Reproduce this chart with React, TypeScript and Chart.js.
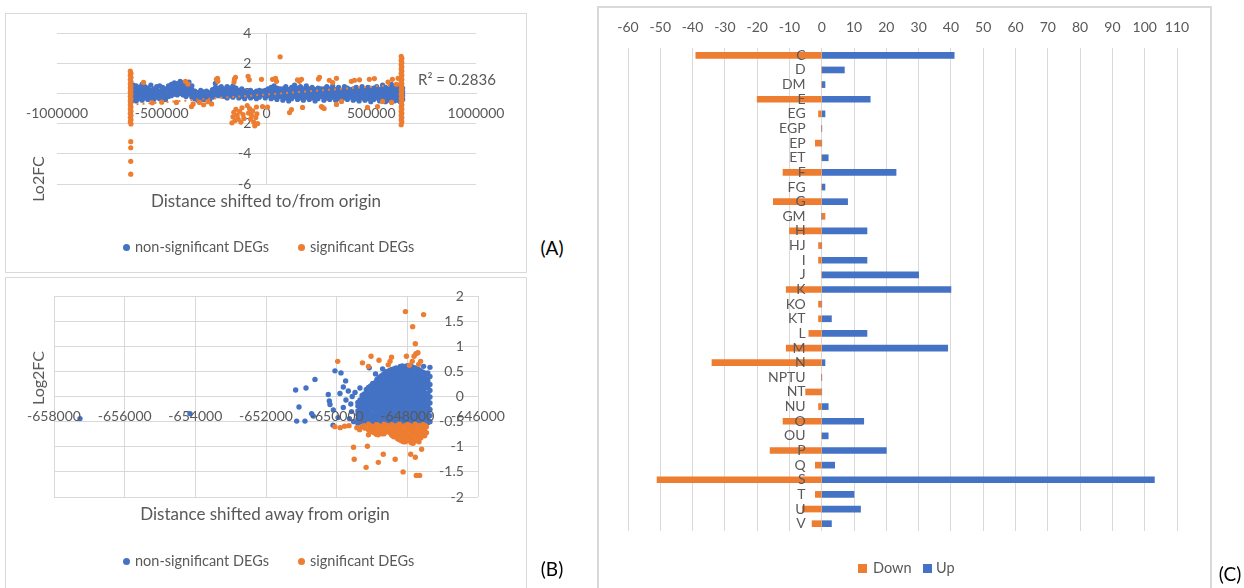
import React, { useEffect, useRef } from "react";
import { Chart, registerables } from "chart.js";

Chart.register(...registerables);

const FONT = "Lato, 'Noto Sans', sans-serif";
const GRAY = "#595959";
const GRID = "#d9d9d9";
const BLUE = "#4472C4";
const ORANGE = "#ED7D31";

// ---------------- Panel A: Log2FC vs distance shifted to/from origin ----------------
const aXTicks = [-1000000, -500000, 0, 500000, 1000000];
const aYTicks = [-6, -4, -2, 0, 2, 4];
const aR2 = "R² = 0.2836";
const aTrend: [number, number][] = [[-649000, -0.75], [644000, 0.6]];

const aBlueCols: [number, number[]][] = [
  [-648000, [-0.55, -0.3, -0.05, 0.2, 0.45, 0.65]],
  [-636000, [-0.45, -0.2, 0.05, 0.3, 0.55]],
  [-622000, [-0.5, -0.25, 0, 0.25, 0.5]],
  [-608000, [-0.35, -0.1, 0.15, 0.4]],
  [-594000, [-0.45, -0.2, 0.05, 0.3, 0.6]],
  [-580000, [-0.3, -0.05, 0.2, 0.45]],
  [-566000, [-0.4, -0.15, 0.1, 0.35]],
  [-552000, [-0.3, -0.05, 0.2, 0.55]],
  [-538000, [-0.4, -0.15, 0.1, 0.3]],
  [-524000, [-0.25, 0, 0.25, 0.45]],
  [-510000, [-0.35, -0.1, 0.15, 0.5]],
  [-496000, [-0.3, -0.05, 0.2, 0.4]],
  [-482000, [-0.4, -0.15, 0.1, 0.3]],
  [-468000, [-0.2, 0.05, 0.3, 0.5]],
  [-454000, [-0.15, 0.1, 0.35, 0.6]],
  [-440000, [-0.05, 0.2, 0.45, 0.7]],
  [-426000, [-0.1, 0.15, 0.4, 0.65]],
  [-412000, [0, 0.25, 0.5, 0.8]],
  [-398000, [-0.1, 0.15, 0.4, 0.7]],
  [-384000, [-0.2, 0.05, 0.3, 0.55]],
  [-370000, [-0.05, 0.2, 0.45, 0.75]],
  [-356000, [-0.25, 0, 0.25, 0.5]],
  [-342000, [-0.35, -0.1, 0.15]],
  [-328000, [-0.45, -0.2, 0.05]],
  [-314000, [-0.3, -0.05, 0.2]],
  [-300000, [-0.4, -0.15, 0.1]],
  [-286000, [-0.35, -0.1, 0.15]],
  [-272000, [-0.45, -0.2, 0.05]],
  [-258000, [-0.25, 0, 0.25]],
  [-244000, [-0.1, 0.15, 0.4, 0.67]],
  [-230000, [-0.15, 0.1, 0.35]],
  [-216000, [-0.05, 0.2, 0.45]],
  [-202000, [-0.2, 0.05, 0.3]],
  [-188000, [-0.3, -0.05, 0.2, 0.45]],
  [-174000, [-0.15, 0.1, 0.35]],
  [-160000, [-0.25, 0, 0.25, 0.5]],
  [-146000, [-0.1, 0.15, 0.35]],
  [-132000, [-0.3, -0.05, 0.2]],
  [-118000, [-0.2, 0.05, 0.3]],
  [-104000, [-0.35, -0.1, 0.15]],
  [-90000, [-0.15, 0.1]],
  [-76000, [-0.3, -0.05, 0.2]],
  [-62000, [-0.2, 0.05]],
  [-48000, [-0.35, -0.1, 0.15]],
  [-34000, [-0.25, 0, 0.2]],
  [-20000, [-0.1, 0.15]],
  [-6000, [-0.3, -0.05, 0.2]],
  [8000, [-0.15, 0.1, 0.3]],
  [22000, [-0.35, -0.1, 0.15, 0.4]],
  [36000, [-0.25, 0, 0.25, 0.5]],
  [50000, [-0.4, -0.15, 0.1, 0.35]],
  [64000, [-0.2, 0.05, 0.3]],
  [78000, [-0.45, -0.2, 0.05, 0.3]],
  [92000, [-0.3, -0.05, 0.2, 0.45]],
  [106000, [-0.5, -0.25, 0, 0.25]],
  [120000, [-0.35, -0.1, 0.15, 0.4]],
  [134000, [-0.2, 0.05, 0.3, 0.55]],
  [148000, [-0.4, -0.15, 0.1, 0.35]],
  [162000, [-0.3, -0.05, 0.2, 0.45]],
  [176000, [-0.45, -0.2, 0.05, 0.3]],
  [190000, [-0.25, 0, 0.25, 0.5]],
  [204000, [-0.4, -0.15, 0.1, 0.3]],
  [218000, [-0.3, -0.05, 0.2, 0.4]],
  [232000, [-0.5, -0.25, 0, 0.25]],
  [246000, [-0.35, -0.1, 0.15, 0.35]],
  [260000, [-0.2, 0.05, 0.3]],
  [274000, [-0.45, -0.2, 0.05, 0.3]],
  [288000, [-0.3, -0.05, 0.2, 0.45]],
  [302000, [-0.4, -0.15, 0.1, 0.3]],
  [316000, [-0.25, 0, 0.25, 0.5]],
  [330000, [-0.45, -0.2, 0.05, 0.25]],
  [344000, [-0.35, -0.1, 0.15, 0.4]],
  [358000, [-0.5, -0.25, 0, 0.2]],
  [372000, [-0.3, -0.05, 0.2, 0.45]],
  [386000, [-0.4, -0.15, 0.1, 0.35]],
  [400000, [-0.25, 0, 0.25]],
  [414000, [-0.45, -0.2, 0.05, 0.3]],
  [428000, [-0.35, -0.1, 0.15, 0.4]],
  [442000, [-0.5, -0.25, 0, 0.25]],
  [456000, [-0.3, -0.05, 0.2, 0.45]],
  [470000, [-0.45, -0.2, 0.05, 0.3]],
  [484000, [-0.35, -0.1, 0.15, 0.4]],
  [498000, [-0.55, -0.3, -0.05, 0.2]],
  [512000, [-0.4, -0.15, 0.1, 0.35]],
  [526000, [-0.3, -0.05, 0.2, 0.45]],
  [540000, [-0.5, -0.25, 0, 0.25]],
  [554000, [-0.4, -0.15, 0.1, 0.35, 0.55]],
  [568000, [-0.55, -0.3, -0.05, 0.2, 0.4]],
  [582000, [-0.45, -0.2, 0.05, 0.3]],
  [596000, [-0.35, -0.1, 0.15, 0.4, 0.6]],
  [610000, [-0.5, -0.25, 0, 0.25, 0.45]],
  [624000, [-0.45, -0.2, 0.05, 0.3, 0.55]],
  [638000, [-0.55, -0.3, -0.05, 0.2, 0.45]],
  [650000, [-0.4, -0.15, 0.1, 0.35]],
];

const aOrange: [number, number][] = [
  [-650000, 1.47], [-647000, 1.33], [-650000, 1.2], [-647000, 1.06], [-650000, 0.92], [-647000, 0.78],
  [-650000, 0.64], [-647000, 0.5], [-650000, 0.36], [-647000, 0.22], [-650000, 0.08], [-647000, -0.06],
  [-650000, -0.2], [-647000, -0.34], [-650000, -0.48], [-647000, -0.62], [-650000, -0.76], [-647000, -0.9],
  [-650000, -1.04], [-647000, -1.18], [-650000, -1.32], [-647000, -1.46], [-650000, -1.6], [-647000, -1.74],
  [-650000, -1.88], [-647000, -2.02],
  [-648000, -3.2], [-648000, -3.6], [-648000, -4.5], [-648000, -5.35],
  [643000, 2.45], [646000, 2.32], [643000, 2.18], [646000, 2.04], [643000, 1.9], [646000, 1.76],
  [643000, 1.62], [646000, 1.48], [643000, 1.34], [646000, 1.2], [643000, 1.06], [646000, 0.92],
  [643000, 0.78], [646000, 0.64], [643000, 0.5], [646000, 0.36], [643000, 0.22], [646000, 0.08],
  [643000, -0.06], [646000, -0.2], [643000, -0.34], [646000, -0.48], [643000, -0.62], [646000, -0.76],
  [643000, -0.9], [646000, -1.04], [643000, -1.18], [646000, -1.32], [643000, -1.46], [646000, -1.6],
  [643000, -1.74], [646000, -1.88], [643000, -2.07],
  [-587000, 0.73], [-545000, -0.62], [-500000, -0.58], [-430000, -0.6], [-387000, 0.8], [-375000, 0.62],
  [-358000, -0.87], [-350000, -0.7], [-320000, -0.6], [-300000, -0.75], [-280000, -0.55], [-262000, -0.7],
  [-239000, 0.93], [-234000, 1.0], [-232000, 0.8],
  [-165000, -1.95], [-160000, -1.55], [-156000, -1.25], [-150000, -1.8], [-146000, -1.05], [-140000, -1.45],
  [-135000, -1.7], [-128000, -1.2], [-122000, -1.9], [-117000, -0.95], [-112000, -1.4], [-108000, -1.65],
  [-153000, 0.95], [-148000, 1.07], [-155000, 0.75],
  [-92000, -0.8], [-86000, -1.3], [-81000, -1.0], [-76000, -1.7], [-71000, -1.45], [-66000, -1.15],
  [-61000, -1.9], [-56000, -2.15], [-51000, -1.6], [-46000, -1.35], [-48000, -0.9], [-42000, -2.0],
  [-88000, 1.13], [-82000, 0.9], [-24000, 0.93], [-19000, -0.87], [5000, -0.9], [29000, 0.93],
  [43000, 1.0], [48000, 0.8], [65000, 2.42],
  [110000, -1.27], [119000, -1.07], [148000, 0.9], [157000, 0.8], [167000, 0.93], [172000, -0.93],
  [248000, 0.95], [253000, 1.07], [262000, -0.87], [267000, -0.93], [275000, -1.0], [300000, 0.87],
  [316000, 0.72], [334000, 1.0], [334000, -0.73], [358000, -0.53], [405000, 0.8], [420000, 0.87],
  [444000, 0.9], [482000, -0.93], [491000, 0.93], [515000, 0.98], [530000, -0.87], [554000, -0.53],
  [580000, 0.75], [597000, -0.6], [601000, 0.93], [620000, 0.6], [628000, 1.0],
];

// ---------------- Panel B: Log2FC vs distance shifted away from origin ----------------
const bXTicks = [-658000, -656000, -654000, -652000, -650000, -648000, -646000];
const bYTicks = [-2, -1.5, -1, -0.5, 0, 0.5, 1, 1.5, 2];

const bBlueCols: [number, number[]][] = [
  [-649400, [-0.53, -0.45, -0.36, -0.29, -0.19, -0.12]],
  [-649340, [-0.51, -0.42, -0.32, -0.25, -0.15, -0.07]],
  [-649280, [-0.49, -0.41, -0.34, -0.23, -0.16, -0.06, 0.02]],
  [-649220, [-0.53, -0.45, -0.38, -0.28, -0.2, -0.11, -0.03, 0.05]],
  [-649160, [-0.54, -0.47, -0.36, -0.27, -0.2, -0.09, -0.02, 0.07, 0.14]],
  [-649100, [-0.52, -0.43, -0.31, -0.23, -0.15, -0.04, 0.03, 0.1, 0.18]],
  [-649040, [-0.5, -0.4, -0.33, -0.24, -0.13, -0.06, 0.05, 0.12, 0.21]],
  [-648980, [-0.53, -0.44, -0.35, -0.22, -0.16, -0.05, 0.02, 0.13, 0.2, 0.26]],
  [-648920, [-0.55, -0.45, -0.38, -0.27, -0.2, -0.09, -0.02, 0.09, 0.16, 0.27]],
  [-648860, [-0.52, -0.4, -0.34, -0.22, -0.16, -0.04, 0.01, 0.14, 0.2, 0.3, 0.34]],
  [-648800, [-0.49, -0.42, -0.31, -0.24, -0.13, -0.06, 0.05, 0.12, 0.23, 0.3, 0.38]],
  [-648740, [-0.52, -0.39, -0.33, -0.2, -0.16, -0.03, 0.02, 0.15, 0.2, 0.32, 0.41]],
  [-648680, [-0.54, -0.45, -0.37, -0.29, -0.18, -0.11, 0, 0.08, 0.18, 0.25, 0.36, 0.44]],
  [-648620, [-0.53, -0.44, -0.36, -0.27, -0.19, -0.08, 0.01, 0.1, 0.18, 0.27, 0.36, 0.44, 0.49]],
  [-648560, [-0.5, -0.4, -0.33, -0.22, -0.15, -0.04, 0.03, 0.14, 0.21, 0.32, 0.39, 0.5]],
  [-648500, [-0.52, -0.44, -0.35, -0.26, -0.17, -0.08, 0.02, 0.1, 0.19, 0.28, 0.37, 0.46, 0.52]],
  [-648440, [-0.55, -0.46, -0.36, -0.29, -0.18, -0.11, 0, 0.07, 0.18, 0.25, 0.36, 0.43, 0.54]],
  [-648380, [-0.52, -0.44, -0.34, -0.26, -0.16, -0.08, 0.02, 0.1, 0.2, 0.28, 0.38, 0.46, 0.55]],
  [-648320, [-0.49, -0.42, -0.31, -0.24, -0.13, -0.06, 0.05, 0.12, 0.23, 0.3, 0.41, 0.48, 0.57]],
  [-648260, [-0.52, -0.44, -0.34, -0.25, -0.16, -0.07, 0.02, 0.11, 0.2, 0.29, 0.38, 0.47, 0.56]],
  [-648200, [-0.54, -0.45, -0.37, -0.28, -0.2, -0.09, -0.02, 0.09, 0.16, 0.27, 0.34, 0.45, 0.52, 0.6]],
  [-648140, [-0.52, -0.43, -0.35, -0.25, -0.17, -0.07, 0.01, 0.11, 0.19, 0.29, 0.37, 0.47, 0.55, 0.61]],
  [-648080, [-0.5, -0.41, -0.33, -0.22, -0.15, -0.04, 0.03, 0.14, 0.21, 0.32, 0.39, 0.5, 0.58]],
  [-648020, [-0.53, -0.44, -0.35, -0.25, -0.16, -0.07, 0.02, 0.11, 0.2, 0.29, 0.38, 0.47, 0.56, 0.61]],
  [-647960, [-0.55, -0.46, -0.36, -0.29, -0.18, -0.11, 0, 0.07, 0.18, 0.25, 0.36, 0.43, 0.54, 0.62]],
  [-647900, [-0.52, -0.44, -0.34, -0.26, -0.16, -0.08, 0.02, 0.1, 0.2, 0.28, 0.38, 0.46, 0.55, 0.61]],
  [-647840, [-0.49, -0.42, -0.31, -0.24, -0.13, -0.06, 0.05, 0.12, 0.23, 0.3, 0.41, 0.48, 0.58]],
  [-647780, [-0.52, -0.43, -0.34, -0.25, -0.16, -0.07, 0.02, 0.11, 0.2, 0.29, 0.38, 0.47, 0.57]],
  [-647720, [-0.54, -0.45, -0.37, -0.28, -0.2, -0.09, -0.02, 0.09, 0.16, 0.27, 0.34, 0.45, 0.55]],
  [-647660, [-0.52, -0.43, -0.35, -0.25, -0.17, -0.07, 0.01, 0.11, 0.19, 0.29, 0.37, 0.47, 0.53]],
  [-647600, [-0.5, -0.41, -0.33, -0.22, -0.15, -0.04, 0.03, 0.14, 0.21, 0.32, 0.39, 0.5]],
  [-647540, [-0.53, -0.44, -0.34, -0.25, -0.16, -0.07, 0.02, 0.11, 0.2, 0.29, 0.38, 0.48]],
  [-647480, [-0.55, -0.46, -0.36, -0.29, -0.18, -0.11, 0, 0.07, 0.18, 0.25, 0.36, 0.45]],
  [-647420, [-0.52, -0.44, -0.32, -0.2, -0.07, 0.06, 0.18, 0.32, 0.47]],
  [-647360, [-0.5, -0.38, -0.26, -0.13, -0.01, 0.12, 0.24, 0.4, 0.58]],
];

const bBlueScatter: [number, number][] = [
  [-657264, -0.44], [-654151, -0.34], [-651161, 0.13], [-650868, 0.17], [-650614, 0.34], [-651066, -0.21],
  [-651132, -0.49], [-650897, -0.49], [-650708, -0.34], [-650661, -0.39], [-650237, 0.04], [-650208, -0.09],
  [-650189, -0.16], [-650048, 0.51], [-649878, 0.47], [-649746, 0.31], [-649812, 0.19], [-649907, 0.06],
  [-649671, 0.11], [-650095, -0.27], [-650102, -0.57], [-649960, -0.42], [-649812, -0.22], [-649737, -0.07],
  [-649580, -0.3], [-649640, -0.44], [-649520, -0.5], [-649560, 0.0], [-649341, 0.17], [-649077, 0.57],
  [-648900, 0.45], [-648700, 0.55], [-647540, 0.6], [-649600, -0.15], [-649480, 0.08],
];

const bOrangeScatter: [number, number][] = [
  [-648054, 1.69], [-647540, 1.63], [-647849, 1.39], [-647774, 1.05], [-647755, 0.85], [-647700, 0.87],
  [-647810, 0.8], [-648025, 0.8], [-647624, 0.7], [-647680, 0.64], [-647860, 0.7], [-648447, 0.78],
  [-648540, 0.63], [-648490, 0.7], [-648802, 0.72], [-649027, 0.8], [-649100, 0.6], [-649270, 0.67],
  [-649971, 0.7], [-647940, 0.62],
  [-649775, -0.59], [-649429, -0.62], [-649288, -0.6], [-649195, -0.63], [-650050, -0.6],
  [-649900, -0.62], [-649650, -0.58], [-649350, -0.66], [-649230, -0.58],
  [-649522, -1.01], [-649130, -0.99], [-648681, -1.15], [-649504, -1.25], [-648821, -1.31], [-648344, -1.25],
  [-649167, -1.41], [-648120, -1.5], [-647905, -1.15], [-647774, -1.21], [-647596, -1.05], [-647746, -1.57],
  [-647652, -1.57],
];

const bOrangeCols: [number, number[]][] = [
  [-649100, [-0.55, -0.66, -0.76]],
  [-649045, [-0.58, -0.69]],
  [-648990, [-0.6, -0.7]],
  [-648935, [-0.62, -0.72]],
  [-648880, [-0.56, -0.67, -0.75]],
  [-648825, [-0.57, -0.66, -0.76]],
  [-648770, [-0.6, -0.71]],
  [-648715, [-0.63, -0.74]],
  [-648660, [-0.55, -0.65, -0.74]],
  [-648605, [-0.57, -0.7]],
  [-648550, [-0.58, -0.68]],
  [-648495, [-0.61, -0.72]],
  [-648440, [-0.56, -0.66, -0.77]],
  [-648385, [-0.58, -0.68, -0.8]],
  [-648330, [-0.6, -0.7, -0.8]],
  [-648275, [-0.57, -0.69, -0.78, -0.84]],
  [-648220, [-0.55, -0.65, -0.75, -0.86]],
  [-648165, [-0.62, -0.72, -0.83, -0.88]],
  [-648110, [-0.59, -0.69, -0.8, -0.9]],
  [-648055, [-0.58, -0.71, -0.82, -0.9]],
  [-648000, [-0.56, -0.66, -0.76, -0.87]],
  [-647945, [-0.57, -0.66, -0.78, -0.88]],
  [-647890, [-0.6, -0.7, -0.81, -0.92]],
  [-647835, [-0.62, -0.72, -0.83, -0.93]],
  [-647780, [-0.55, -0.65, -0.75, -0.85]],
  [-647725, [-0.58, -0.7, -0.8, -0.88]],
  [-647670, [-0.58, -0.68, -0.79, -0.9]],
  [-647615, [-0.6, -0.71, -0.82]],
  [-647560, [-0.56, -0.66, -0.76]],
  [-647510, [-0.57, -0.66, -0.78]],
  [-647460, [-0.6, -0.72]],
];

// ---------------- Panel C: Down / Up counts per category ----------------
const cCategories = ["C", "D", "DM", "E", "EG", "EGP", "EP", "ET", "F", "FG", "G", "GM", "H", "HJ", "I", "J", "K",
  "KO", "KT", "L", "M", "N", "NPTU", "NT", "NU", "O", "OU", "P", "Q", "S", "T", "U", "V"];
const cDown = [-39, 0, 0, -20, -1, 0, -2, 0, -12, 0, -15, 1, -10, -1, -1, 0, -11,
  -1, -1, -4, -11, -34, 0, -5, -1, -12, 0, -16, -2, -51, -2, -6, -3];
const cUp = [41, 7, 1, 15, 1, 0, 0, 2, 23, 1, 8, 0, 14, 0, 14, 30, 40,
  0, 3, 14, 39, 1, 0, 0, 2, 13, 2, 20, 4, 103, 10, 12, 3];
const cXTicks = [-60, 110];

// ---------------- helpers ----------------
const colsToPoints = (cols: [number, number[]][]) => {
  const out: { x: number; y: number }[] = [];
  cols.forEach(([x, ys]) => ys.forEach((y) => out.push({ x, y })));
  return out;
};
const pairsToPoints = (arr: [number, number][]) => arr.map(([x, y]) => ({ x, y }));

const tickFont = { family: FONT, size: 14 };

function scatterConfig(opts: any) {
  return {
    type: "scatter",
    data: { datasets: opts.datasets },
    options: {
      animation: false,
      responsive: false,
      maintainAspectRatio: false,
      devicePixelRatio: 1,
      events: [],
      layout: { padding: opts.padding },
      plugins: { legend: { display: false }, tooltip: { enabled: false } },
      scales: opts.scales,
    },
  } as any;
}

function PanelA() {
  const ref = useRef<HTMLCanvasElement>(null);
  useEffect(() => {
    const chart = new Chart(ref.current!, scatterConfig({
      padding: { left: 57, right: 64, top: 33, bottom: 91 },
      datasets: [
        { label: "trend", type: "line", data: pairsToPoints(aTrend), borderColor: ORANGE, borderWidth: 2,
          borderDash: [2, 4], pointRadius: 0, fill: false, order: 0 },
        { label: "significant DEGs", data: pairsToPoints(aOrange), backgroundColor: ORANGE, borderWidth: 0,
          pointRadius: 2.6, order: 1 },
        { label: "non-significant DEGs", data: colsToPoints(aBlueCols), backgroundColor: BLUE, borderWidth: 0,
          pointRadius: 2.6, order: 2 },
      ],
      scales: {
        x: {
          type: "linear", min: aXTicks[0], max: aXTicks[aXTicks.length - 1], position: { y: 0 },
          ticks: { stepSize: aXTicks[1] - aXTicks[0], callback: (v: any) => String(v), color: GRAY, font: tickFont, padding: 12 },
          grid: { color: (c: any) => (c.tick && c.tick.value === 0 ? GRID : "rgba(0,0,0,0)"), drawTicks: false },
          border: { display: true, color: GRID },
        },
        y: {
          type: "linear", min: aYTicks[0], max: aYTicks[aYTicks.length - 1], position: { x: -72000 },
          ticks: { stepSize: aYTicks[1] - aYTicks[0], callback: (v: any) => String(v), color: GRAY, font: tickFont },
          grid: { color: GRID, drawTicks: false },
          border: { display: false },
        },
      },
    }));
    return () => chart.destroy();
  }, []);
  return <canvas ref={ref} width={540} height={275} style={{ position: "absolute", left: 0, top: 0, width: 540, height: 275 }} />;
}

function PanelB() {
  const ref = useRef<HTMLCanvasElement>(null);
  useEffect(() => {
    const chart = new Chart(ref.current!, scatterConfig({
      padding: { left: 54, right: 62, top: 21, bottom: 91 },
      datasets: [
        { label: "significant DEGs", data: [...pairsToPoints(bOrangeScatter), ...colsToPoints(bOrangeCols)],
          backgroundColor: ORANGE, borderWidth: 0, pointRadius: 2.7, order: 1 },
        { label: "non-significant DEGs", data: [...pairsToPoints(bBlueScatter), ...colsToPoints(bBlueCols)],
          backgroundColor: BLUE, borderWidth: 0, pointRadius: 2.7, order: 2 },
      ],
      scales: {
        x: {
          type: "linear", min: bXTicks[0], max: bXTicks[bXTicks.length - 1], position: { y: 0 },
          ticks: { stepSize: bXTicks[1] - bXTicks[0], callback: (v: any) => String(v), color: GRAY, font: tickFont, padding: 12, z: 1 },
          grid: { color: GRID, drawTicks: false },
          border: { display: true, color: GRID },
        },
        y: {
          type: "linear", min: bYTicks[0], max: bYTicks[bYTicks.length - 1], position: { x: -646400 },
          ticks: { stepSize: bYTicks[1] - bYTicks[0], callback: (v: any) => String(v), color: GRAY, font: tickFont },
          grid: { color: GRID, drawTicks: false },
          border: { display: false },
        },
      },
    }));
    return () => chart.destroy();
  }, []);
  return <canvas ref={ref} width={540} height={313} style={{ position: "absolute", left: 0, top: 275, width: 540, height: 313 }} />;
}

function PanelC() {
  const ref = useRef<HTMLCanvasElement>(null);
  useEffect(() => {
    const chart = new Chart(ref.current!, {
      type: "bar",
      data: {
        labels: cCategories,
        datasets: [
          { label: "Down", data: cDown, backgroundColor: ORANGE, barThickness: 6, grouped: false },
          { label: "Up", data: cUp, backgroundColor: BLUE, barThickness: 6, grouped: false },
        ],
      },
      options: {
        indexAxis: "y",
        animation: false,
        responsive: false,
        maintainAspectRatio: false,
        devicePixelRatio: 1,
        events: [],
        layout: { padding: { left: 28, right: 63, top: 6, bottom: 57 } },
        plugins: { legend: { display: false }, tooltip: { enabled: false } },
        scales: {
          x: {
            type: "linear", min: cXTicks[0], max: cXTicks[1], position: "top",
            ticks: { stepSize: 10, color: GRAY, font: tickFont, padding: 12.6 },
            grid: { color: GRID, drawTicks: false },
            border: { display: false },
          },
          y: {
            type: "category", position: { x: -5 },
            ticks: { color: GRAY, font: tickFont, autoSkip: false, z: 1 },
            grid: { display: false, drawTicks: false },
            border: { display: false },
          },
        },
      },
    } as any);
    return () => chart.destroy();
  }, []);
  return <canvas ref={ref} width={640} height={588} style={{ position: "absolute", left: 600, top: 0, width: 640, height: 588 }} />;
}

function Text(props: { x: number; y: number; children: any; size: number; color?: string; align?: "center" | "left"; rotate?: boolean }) {
  const { x, y, size, color = GRAY, align = "center", rotate } = props;
  const tf = (align === "center" ? "translate(-50%,-50%)" : "translate(0,-50%)") + (rotate ? " rotate(-90deg)" : "");
  return (
    <div style={{ position: "absolute", left: x, top: y, transform: tf, fontFamily: FONT, fontSize: size, color,
      whiteSpace: "nowrap", lineHeight: 1 }}>{props.children}</div>
  );
}

function Box(props: { l: number; t: number; w: number; h: number; bw?: number }) {
  return <div style={{ position: "absolute", left: props.l, top: props.t, width: props.w, height: props.h,
    border: `${props.bw || 1}px solid ${GRID}`, boxSizing: "border-box" }} />;
}

function Dot(props: { x: number; y: number; color: string; square?: boolean; s: number }) {
  return <div style={{ position: "absolute", left: props.x - props.s / 2, top: props.y - props.s / 2, width: props.s,
    height: props.s, borderRadius: props.square ? 0 : "50%", background: props.color }} />;
}

function ScatterLegend({ y }: { y: number }) {
  return (
    <>
      <Dot x={126.5} y={y + 0.5} color={BLUE} s={7} />
      <Text x={135} y={y} size={14.5} align="left">non-significant DEGs</Text>
      <Dot x={301.5} y={y + 0.5} color={ORANGE} s={7} />
      <Text x={310} y={y} size={14.5} align="left">significant DEGs</Text>
    </>
  );
}

export default function App() {
  return (
    <div style={{ position: "absolute", left: 0, top: 0, width: 1244, height: 588, overflow: "hidden", background: "#fff" }}>
      <Box l={5} t={13} w={522} h={260} />
      <Box l={5} t={277} w={522} h={312} />
      <Box l={597} t={6} w={615} h={600} bw={2} />
      <PanelA />
      <PanelB />
      <PanelC />
      <Text x={38} y={179} size={16} rotate>Lo2FC</Text>
      <Text x={266} y={200} size={17}>Distance shifted to/from origin</Text>
      <Text x={418} y={79} size={15} align="left">{aR2}</Text>
      <ScatterLegend y={247} />
      <Text x={552} y={247} size={19} color="#000">(A)</Text>

      <Text x={38} y={378} size={16} rotate>Log2FC</Text>
      <Text x={265} y={513} size={17}>Distance shifted away from origin</Text>
      <ScatterLegend y={561} />
      <Text x={552} y={568} size={19} color="#000">(B)</Text>

      <Dot x={862.5} y={568.5} color={ORANGE} square s={9} />
      <Text x={873} y={568} size={14.5} align="left">Down</Text>
      <Dot x={927.5} y={568.5} color={BLUE} square s={9} />
      <Text x={936} y={568} size={14.5} align="left">Up</Text>
      <Text x={1230} y={573} size={19} color="#000">(C)</Text>
    </div>
  );
}
